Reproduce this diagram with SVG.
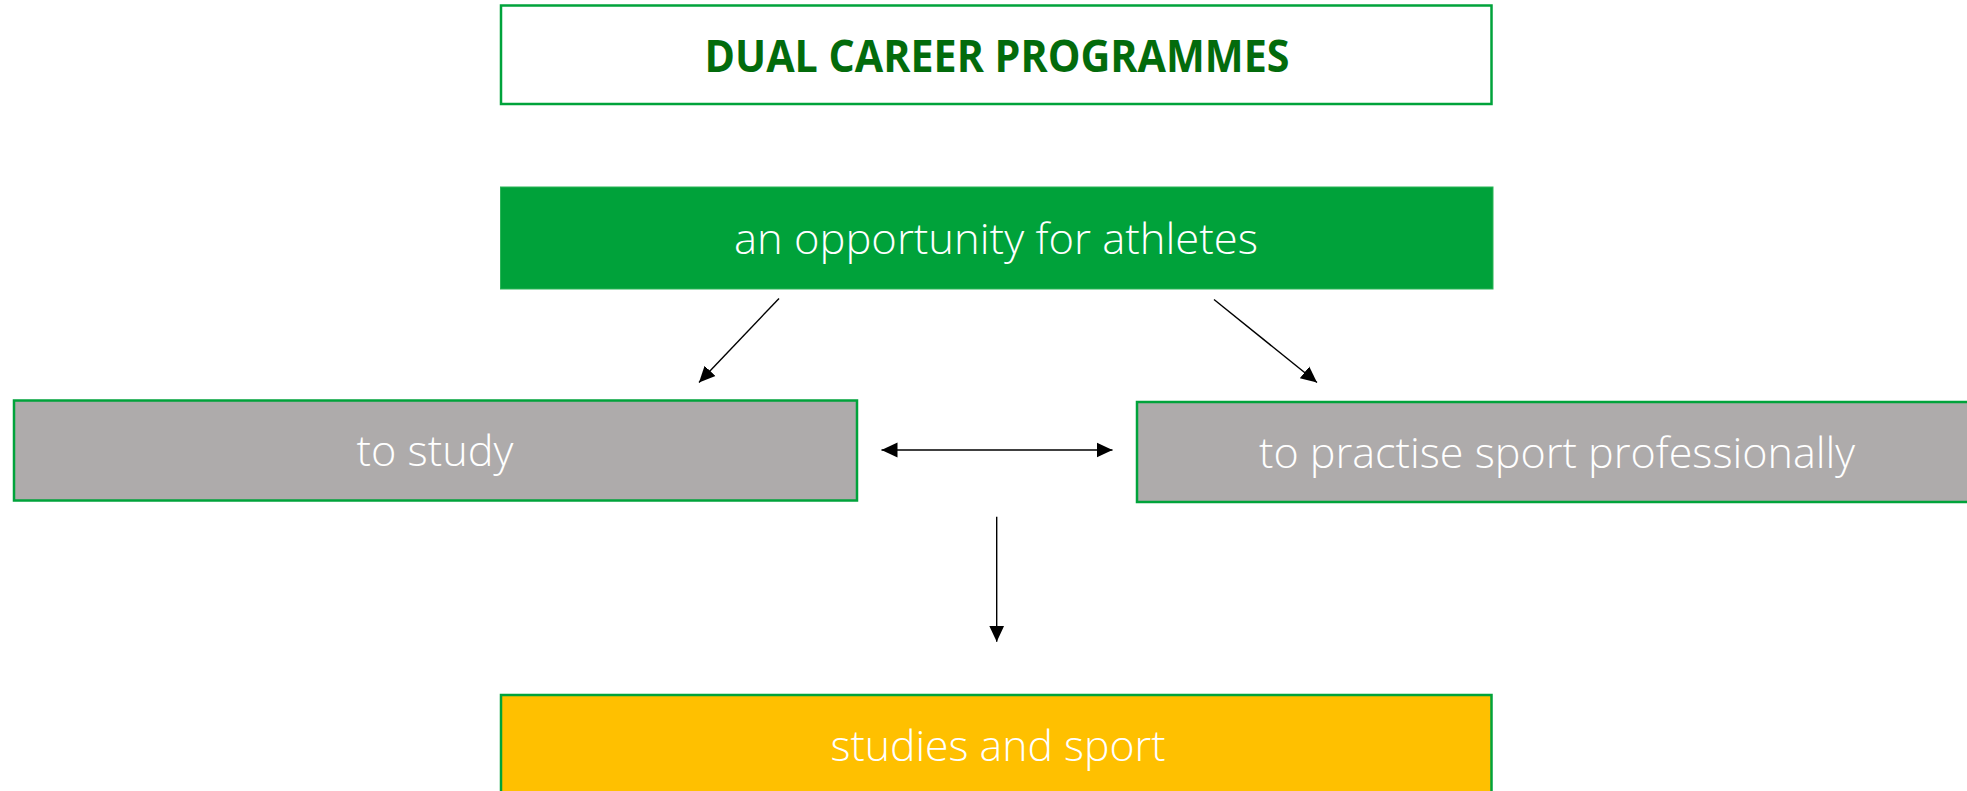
<svg xmlns="http://www.w3.org/2000/svg" width="1967" height="791" viewBox="0 0 1967 791">
<style>
.box{stroke:#00a33b;stroke-width:2.5}
.t{font-family:"Open Sans","Liberation Sans",sans-serif;font-size:42px;fill:#ffffff;text-anchor:middle;font-weight:300}
.title{font-family:"Open Sans","Liberation Sans",sans-serif;font-size:44px;fill:#036b0c;text-anchor:middle;font-weight:700}
.c{stroke:#000;stroke-width:1.4;fill:none}
</style>
<defs>
<marker id="ah" markerUnits="userSpaceOnUse" markerWidth="18" markerHeight="18" viewBox="0 0 18 18" refX="16" refY="9" orient="auto-start-reverse">
<path d="M0,1.5 L16,9 L0,16.5 Z" fill="#000"/>
</marker>
</defs>
<rect width="1967" height="791" fill="#ffffff"/>
<g id="node-title">
<rect class="box" x="501" y="5.5" width="990.5" height="98.5" fill="#ffffff"/>
<text class="title" x="997" y="72" textLength="585" lengthAdjust="spacingAndGlyphs">DUAL CAREER PROGRAMMES</text>
</g>
<g id="node-opportunity">
<rect x="500.5" y="187" width="992.5" height="102" fill="#00a23a" stroke="#2bb457" stroke-width="1"/>
<text class="t" x="996" y="254" textLength="524" lengthAdjust="spacingAndGlyphs">an opportunity for athletes</text>
</g>
<g id="node-study">
<rect class="box" x="14" y="400.5" width="843" height="100" fill="#aeabab"/>
<text class="t" x="435" y="466" textLength="157" lengthAdjust="spacingAndGlyphs">to study</text>
</g>
<g id="node-sport">
<rect class="box" x="1137" y="402" width="835" height="100" fill="#aeabab"/>
<text class="t" x="1557" y="467.5" textLength="596" lengthAdjust="spacingAndGlyphs">to practise sport professionally</text>
</g>
<g id="node-studies-sport">
<rect class="box" x="501" y="695" width="990.5" height="110" fill="#ffc000"/>
<text class="t" x="998" y="761" textLength="335" lengthAdjust="spacingAndGlyphs">studies and sport</text>
</g>
<g id="connectors">
<line class="c" x1="779" y1="298.5" x2="699" y2="382.5" marker-end="url(#ah)"/>
<line class="c" x1="1214" y1="299.5" x2="1317" y2="382.5" marker-end="url(#ah)"/>
<line class="c" x1="881.5" y1="450" x2="1112.5" y2="450" marker-start="url(#ah)" marker-end="url(#ah)"/>
<line class="c" x1="996.7" y1="516.7" x2="996.7" y2="641.7" marker-end="url(#ah)"/>
</g>
</svg>
